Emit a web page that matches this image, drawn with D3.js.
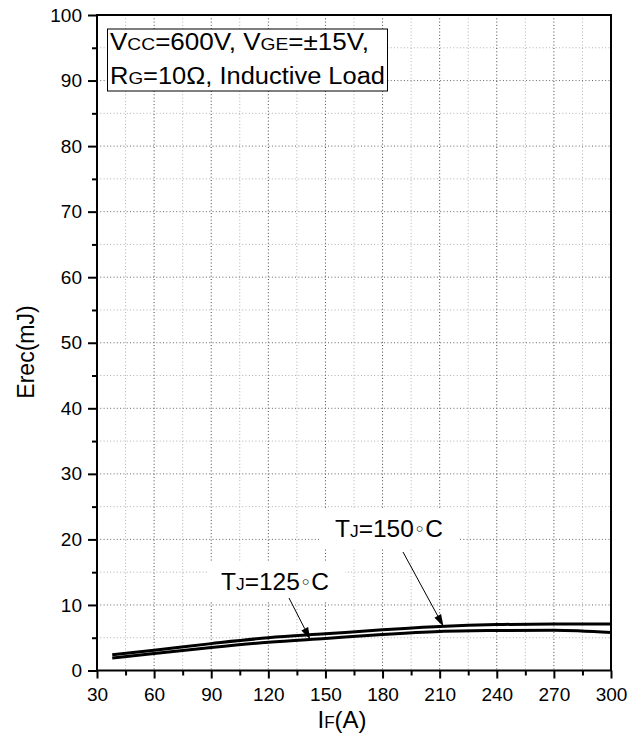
<!DOCTYPE html>
<html>
<head>
<meta charset="utf-8">
<script src="https://cdn.jsdelivr.net/npm/d3@7"></script>
<style>
  html, body { margin: 0; padding: 0; background: #fff; }
  svg { display: block; font-family: "Liberation Sans", Arial, sans-serif; }
</style>
</head>
<body>
<svg id="chart" width="638" height="742"></svg>
<script>
// Diode reverse-recovery energy vs. forward current
const currents = [38, 60, 90, 120, 150, 180, 210, 240, 270, 300];
const erec150 = [2.4, 3.1, 4.1, 5.0, 5.6, 6.2, 6.7, 7.0, 7.1, 7.1];
const erec125 = [1.9, 2.6, 3.5, 4.3, 4.9, 5.5, 5.95, 6.1, 6.15, 5.8];
const xTicks = [30, 60, 90, 120, 150, 180, 210, 240, 270, 300];
const yTicks = [0, 10, 20, 30, 40, 50, 60, 70, 80, 90, 100];

(function () {
const svg = d3.select("#chart");
const plotL = 97, plotR = 611, plotT = 15, plotB = 670.5;

const x = d3.scaleLinear().domain([30, 300]).range([plotL, plotR]);
const y = d3.scaleLinear().domain([0, 100]).range([plotB, plotT]);

const xMinor = d3.range(45, 300, 30);
const yMinor = d3.range(5, 100, 10);

// grid
const grid = svg.append("g");
grid.selectAll(".vmin").data(xMinor).join("line")
  .attr("x1", d => x(d)).attr("x2", d => x(d)).attr("y1", plotT).attr("y2", plotB)
  .attr("stroke", "#b0b0b0").attr("stroke-width", 1).attr("stroke-dasharray", "1,2.3");
grid.selectAll(".hmin").data(yMinor).join("line")
  .attr("y1", d => y(d)).attr("y2", d => y(d)).attr("x1", plotL).attr("x2", plotR)
  .attr("stroke", "#b0b0b0").attr("stroke-width", 1).attr("stroke-dasharray", "1,2.3");
grid.selectAll(".vmaj").data(xTicks.slice(1, -1)).join("line")
  .attr("x1", d => x(d)).attr("x2", d => x(d)).attr("y1", plotT).attr("y2", plotB)
  .attr("stroke", "#444").attr("stroke-width", 1).attr("stroke-dasharray", "1,2.3");
grid.selectAll(".hmaj").data(yTicks.slice(1, -1)).join("line")
  .attr("y1", d => y(d)).attr("y2", d => y(d)).attr("x1", plotL).attr("x2", plotR)
  .attr("stroke", "#666").attr("stroke-width", 1).attr("stroke-dasharray", "1,2.3");

// curves
const line = d3.line().x(d => x(d[0])).y(d => y(d[1])).curve(d3.curveMonotoneX);
[erec150, erec125].forEach(series => {
  svg.append("path")
    .attr("d", line(currents.map((c, i) => [c, series[i]])))
    .attr("fill", "none").attr("stroke", "#000").attr("stroke-width", 3);
});

// axes
const xAxis = d3.axisBottom(x).tickValues(xTicks).tickSize(8).tickPadding(9).tickFormat(d3.format("d"));
const yAxis = d3.axisLeft(y).tickValues(yTicks).tickSize(9).tickPadding(6).tickFormat(d3.format("d"));

svg.append("g").attr("transform", `translate(0,${plotB})`).call(xAxis);
svg.append("g").attr("transform", `translate(${plotL},0)`).call(yAxis);
svg.append("g").attr("transform", `translate(0,${plotB})`)
  .call(d3.axisBottom(x).tickValues(xMinor).tickSize(5).tickFormat(""));
svg.append("g").attr("transform", `translate(${plotL},0)`)
  .call(d3.axisLeft(y).tickValues(yMinor).tickSize(5).tickFormat(""));

svg.selectAll(".tick line").attr("stroke", "#000").attr("stroke-width", 2);
svg.selectAll(".domain").remove();
svg.selectAll(".tick text").attr("font-size", 19).attr("fill", "#000")
  .attr("font-family", "'Liberation Sans', Arial, sans-serif");

// frame
svg.append("rect").attr("x", plotL).attr("y", plotT).attr("width", plotR - plotL).attr("height", plotB - plotT)
  .attr("fill", "none").attr("stroke", "#000").attr("stroke-width", 2);

// axis titles
const xt = svg.append("text").attr("x", 342).attr("y", 728).attr("text-anchor", "middle")
  .attr("font-size", 24).attr("fill", "#000");
xt.append("tspan").text("I");
xt.append("tspan").attr("font-size", 17).text("F");
xt.append("tspan").text("(A)");

svg.append("text").attr("transform", "translate(34,352) rotate(-90)").attr("text-anchor", "middle")
  .attr("font-size", 23).attr("fill", "#000").text("Erec(mJ)");

// conditions box
svg.append("rect").attr("x", 107.5).attr("y", 29).attr("width", 280).attr("height", 62)
  .attr("fill", "#fff").attr("stroke", "#000").attr("stroke-width", 1);
const l1 = svg.append("text").attr("x", 110).attr("y", 50).attr("font-size", 23).attr("fill", "#000")
  .attr("textLength", 259).attr("lengthAdjust", "spacingAndGlyphs");
l1.append("tspan").text("V");
l1.append("tspan").attr("font-size", 17).text("CC");
l1.append("tspan").text("=600V, V");
l1.append("tspan").attr("font-size", 17).text("GE");
l1.append("tspan").text("=\u00B115V,");
const l2 = svg.append("text").attr("x", 110).attr("y", 84).attr("font-size", 23).attr("fill", "#000")
  .attr("textLength", 275).attr("lengthAdjust", "spacingAndGlyphs");
l2.append("tspan").text("R");
l2.append("tspan").attr("font-size", 17).text("G");
l2.append("tspan").text("=10\u03A9, Inductive Load");

// temperature annotations with arrows onto the curves
function valueAt(series, c) {
  return d3.scaleLinear().domain(currents).range(series)(c);
}
const notes = [
  { temp: "150", series: erec150, at: 212, tx: 335, ty: 537, from: [403, 552] },
  { temp: "125", series: erec125, at: 142, tx: 221, ty: 590, from: [289, 598] }
];
notes.forEach(n => {
  const t = svg.append("text").attr("x", n.tx).attr("y", n.ty).attr("font-size", 24).attr("fill", "#000")
    .attr("textLength", 108).attr("lengthAdjust", "spacingAndGlyphs");
  t.append("tspan").text("T");
  t.append("tspan").attr("font-size", 17).text("J");
  t.append("tspan").text("=" + n.temp);
  t.append("tspan").attr("font-family", "'DejaVu Sans', sans-serif").attr("font-size", 19).attr("dy", -1).text("\u25E6");
  t.append("tspan").attr("dy", 1).text("C");
  const bb = t.node().getBBox();
  svg.insert("rect", function () { return t.node(); })
    .attr("x", bb.x - 14).attr("y", bb.y - 6).attr("width", bb.width + 30).attr("height", bb.height + 12)
    .attr("fill", "#fff");

  const tip = [x(n.at), y(valueAt(n.series, n.at))];
  const dx = tip[0] - n.from[0], dy = tip[1] - n.from[1];
  const len = Math.hypot(dx, dy), ux = dx / len, uy = dy / len;
  const headL = 12, headW = 3.8;
  const bx = tip[0] - ux * headL, by = tip[1] - uy * headL;
  svg.append("line").attr("x1", n.from[0]).attr("y1", n.from[1]).attr("x2", bx).attr("y2", by)
    .attr("stroke", "#000").attr("stroke-width", 1);
  svg.append("path")
    .attr("d", `M${tip[0]},${tip[1]}L${bx - uy * headW},${by + ux * headW}L${bx + uy * headW},${by - ux * headW}Z`)
    .attr("fill", "#000");
});
})();
</script>
</body>
</html>
